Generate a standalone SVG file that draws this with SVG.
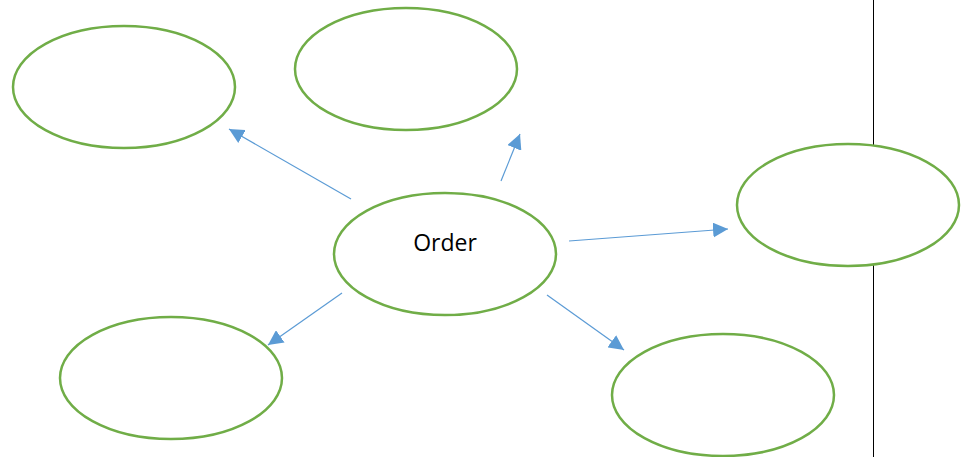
<svg xmlns="http://www.w3.org/2000/svg" width="970" height="457" viewBox="0 0 970 457">
<style>
.node{fill:#fff;stroke:#70AD47;stroke-width:2.5}
.conn{stroke:#5B9BD5;stroke-width:1.2;fill:none;marker-end:url(#ah)}
.lbl{font-family:"Open Sans",sans-serif;font-size:23px;fill:#000}
</style>
<defs>
<marker id="ah" viewBox="0 0 10 10" refX="10" refY="5" markerWidth="15" markerHeight="15" markerUnits="userSpaceOnUse" orient="auto">
<path d="M0,0 L10,5 L0,10 z" fill="#5B9BD5"/>
</marker>
</defs>
<rect width="970" height="457" fill="#fff"/>
<line x1="873.5" y1="0" x2="873.5" y2="457" stroke="#000" stroke-width="1"/>
<g id="connectors">
<line class="conn" x1="351" y1="199" x2="229" y2="129"/>
<line class="conn" x1="501" y1="181" x2="520" y2="134"/>
<line class="conn" x1="569" y1="241" x2="728" y2="229"/>
<line class="conn" x1="342" y1="293" x2="268" y2="345"/>
<line class="conn" x1="547" y1="295" x2="624" y2="350"/>
</g>
<g id="n1"><ellipse class="node" cx="124" cy="87" rx="111" ry="61"/></g>
<g id="n2"><ellipse class="node" cx="406" cy="69" rx="111" ry="61"/></g>
<g id="n3"><ellipse class="node" cx="848" cy="205" rx="111" ry="61"/></g>
<g id="order"><ellipse class="node" cx="445" cy="254" rx="111" ry="61"/>
<text class="lbl" x="445" y="251" text-anchor="middle">Order</text></g>
<g id="n5"><ellipse class="node" cx="171" cy="378" rx="111" ry="61"/></g>
<g id="n6"><ellipse class="node" cx="723" cy="395" rx="111" ry="61"/></g>
</svg>
